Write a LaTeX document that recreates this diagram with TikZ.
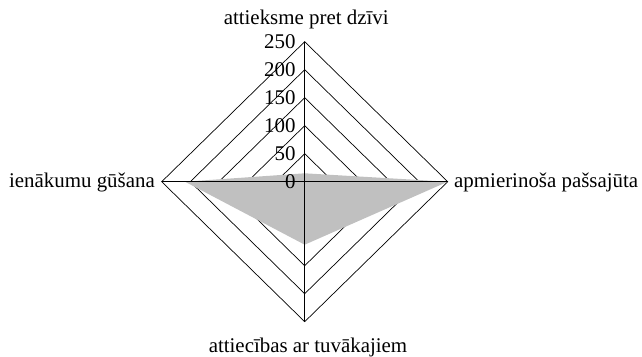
\documentclass[tikz,border=0pt]{standalone}
\usepackage{fontspec}
\setmainfont{Liberation Serif}
\definecolor{areagray}{RGB}{192,192,192}

\begin{document}
\begin{tikzpicture}[x=1pt, y=1pt, line cap=round, line join=round,
  gridline/.style={black, line width=0.7pt},
  axislabel/.style={font=\fontsize{20.9}{25}\selectfont, inner sep=0pt},
  ticklabel/.style={font=\fontsize{20.9}{25}\selectfont, inner sep=0pt, anchor=east}]

\useasboundingbox (-304.7,-174.3) rectangle (337.3,181.7);

% rings, one every 50
\foreach \k in {1,...,5}
  \draw[gridline] (0,28*\k) -- (28.6*\k,0) -- (0,-28*\k) -- (-28.6*\k,0) -- cycle;

\fill[areagray] (0,8.4) -- (143,0) -- (0,-63) -- (-119.7,0) -- cycle;

\draw[gridline] (0,140) -- (0,-140);
\draw[gridline] (-143,0) -- (143,0);

\foreach \k/\v in {0/0,1/50,2/100,3/150,4/200,5/250}
  \node[ticklabel] (tick\k) at (-9,28*\k) {\v};

\node[axislabel, anchor=base] (dzive) at (1.5,156.7) {attieksme pret dzīvi};
\node[axislabel, anchor=base west] (pasjuta) at (149.3,-6) {apmierinoša pašsajūta};
\node[axislabel, anchor=base] (tuvakie) at (3.3,-170.3) {attiecības ar tuvākajiem};
\node[axislabel, anchor=base east] (ienakumi) at (-149.7,-6) {ienākumu gūšana};

\end{tikzpicture}
\end{document}
